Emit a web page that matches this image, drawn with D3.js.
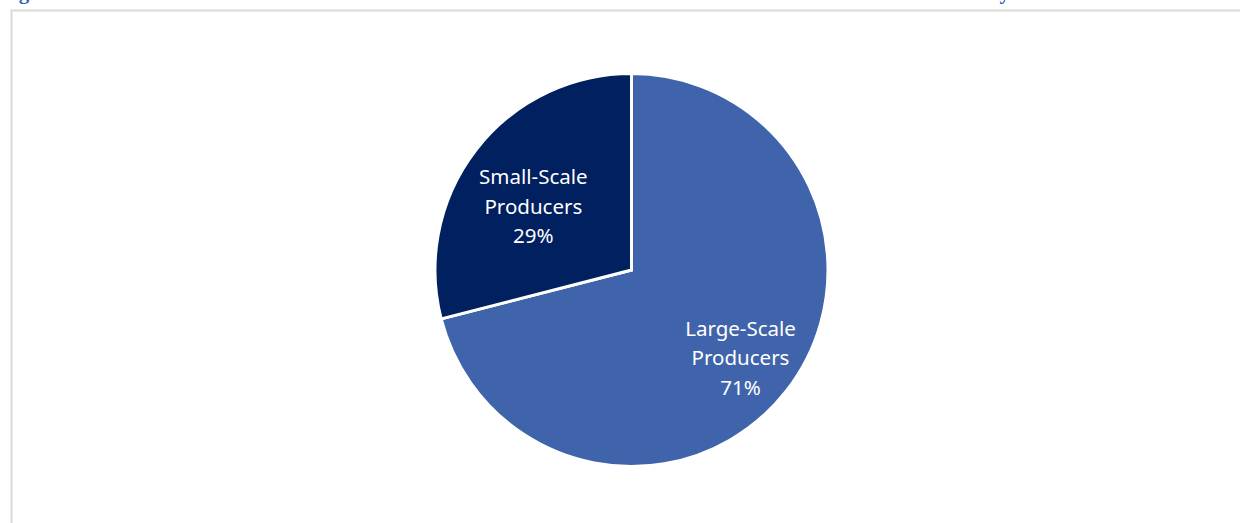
<!DOCTYPE html>
<html>
<head>
<meta charset="utf-8">
<script src="https://cdn.jsdelivr.net/npm/d3@7"></script>
<style>
  html, body { margin: 0; padding: 0; background: #ffffff; }
  svg { display: block; }
</style>
</head>
<body>
<svg id="chart" width="1240" height="523"></svg>
<script>
// Producer groups and their shares of the total
const categories = ["Large-Scale Producers", "Small-Scale Producers"];
const labelLines = [["Large-Scale", "Producers"], ["Small-Scale", "Producers"]];
const shares = [71, 29];
const colors = ["#3F64AB", "#002060"];
const titleText = "Figure 6: Share of Total Rice Harvest Sold to Domestic and International Markets in North Zone in 2021 Year by Scale";

const W = 1240, H = 523;
const svg = d3.select("#chart");

// Figure caption (its upper part runs above the page edge)
svg.append("text")
  .attr("x", 0)
  .attr("y", -1)
  .attr("font-family", "Liberation Serif, serif")
  .attr("font-weight", "bold")
  .attr("font-size", 21)
  .attr("fill", "#2E5FC0")
  .text(titleText);

// Chart frame
svg.append("rect")
  .attr("x", 11.5).attr("y", 10.5)
  .attr("width", W + 20).attr("height", H + 20)
  .attr("fill", "none")
  .attr("stroke", "#d9d9d9")
  .attr("stroke-width", 2);

const cx = 631.5, cy = 270, r = 196.5;

const pie = d3.pie().sort(null).value(d => d.value);
const arcs = pie(categories.map((c, i) => ({ name: c, value: shares[i], lines: labelLines[i], color: colors[i] })));

const arc = d3.arc().innerRadius(0).outerRadius(r);
const g = svg.append("g").attr("transform", `translate(${cx},${cy})`);

g.selectAll("path")
  .data(arcs)
  .join("path")
  .attr("d", arc)
  .attr("fill", d => d.data.color)
  .attr("stroke", "#ffffff")
  .attr("stroke-width", 3)
  .attr("stroke-linejoin", "miter");

// In-slice labels: name on two lines, share underneath (best-fit placement per slice)
const labelRadius = [0.715, 0.6];
const labelNudge = [[-2, 2], [-5, 9]];
const labels = g.selectAll("text.slice-label")
  .data(arcs)
  .join("text")
  .attr("class", "slice-label")
  .attr("text-anchor", "middle")
  .attr("font-family", "Noto Sans, sans-serif")
  .attr("font-size", 20.5)
  .attr("fill", "#ffffff")
  .attr("transform", (d, i) => {
    const rr = r * labelRadius[i];
    const [x, y] = d3.arc().innerRadius(rr).outerRadius(rr).centroid(d);
    return `translate(${x + labelNudge[i][0]},${y + labelNudge[i][1]})`;
  });

labels.each(function(d) {
  const t = d3.select(this);
  const rows = [...d.data.lines, d.data.value + "%"];
  rows.forEach((row, i) => {
    t.append("tspan")
      .attr("x", 0)
      .attr("y", (i - 1) * 29.5 + 7)
      .text(row);
  });
});
</script>
</body>
</html>
